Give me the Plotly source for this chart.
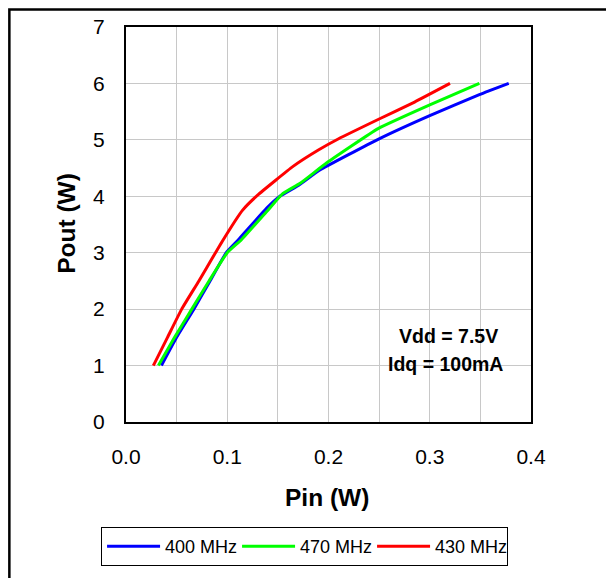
import plotly.graph_objects as go

# Data
pin_400 = [0.035, 0.050, 0.067, 0.083, 0.099, 0.111, 0.139, 0.152, 0.171, 0.191, 0.249, 0.300, 0.349, 0.378]
pout_400 = [1.00, 1.50, 2.00, 2.50, 3.00, 3.23, 3.79, 4.00, 4.20, 4.46, 5.01, 5.43, 5.80, 6.00]

pin_470 = [0.032, 0.048, 0.065, 0.082, 0.100, 0.114, 0.140, 0.155, 0.172, 0.198, 0.249, 0.300, 0.349]
pout_470 = [1.00, 1.50, 2.00, 2.50, 3.00, 3.23, 3.75, 4.05, 4.23, 4.59, 5.20, 5.62, 6.00]

pin_430 = [0.027, 0.041, 0.055, 0.072, 0.095, 0.115, 0.130, 0.165, 0.190, 0.210, 0.250, 0.285, 0.320]
pout_430 = [1.00, 1.50, 2.00, 2.50, 3.20, 3.75, 4.02, 4.53, 4.82, 5.02, 5.37, 5.67, 6.00]

series_names = ["400 MHz", "470 MHz", "430 MHz"]
series_colors = ["#0000ff", "#00ff00", "#ff0000"]

x_ticks = [0.0, 0.1, 0.2, 0.3, 0.4]
y_ticks = [0, 1, 2, 3, 4, 5, 6, 7]

FONT = "Liberation Sans, Arial, sans-serif"

fig = go.Figure()
for xs, ys, name, col in zip([pin_400, pin_470, pin_430],
                             [pout_400, pout_470, pout_430],
                             series_names, series_colors):
    fig.add_trace(go.Scatter(x=xs, y=ys, mode="lines", name=name,
                             line=dict(color=col, width=3, shape="spline", smoothing=0.4)))

grid_col = "#c8c8c8"
fig.update_xaxes(range=[0, 0.4], tickvals=x_ticks, tickformat=".1f",
                 showgrid=True, gridcolor=grid_col, gridwidth=1,
                 minor=dict(dtick=0.05, showgrid=True, gridcolor=grid_col, gridwidth=1),
                 showline=True, linecolor="black", linewidth=2, mirror=True,
                 zeroline=False, ticks="", ticklabelstandoff=15,
                 tickfont=dict(family=FONT, size=21, color="black"))
fig.update_yaxes(range=[0, 7], tickvals=y_ticks,
                 showgrid=True, gridcolor=grid_col, gridwidth=1,
                 showline=True, linecolor="black", linewidth=2, mirror=True,
                 zeroline=False, ticks="", ticklabelstandoff=15,
                 tickfont=dict(family=FONT, size=21, color="black"))

fig.update_layout(
    width=614, height=578,
    margin=dict(l=118, r=91, t=19, b=164, autoexpand=False),
    paper_bgcolor="white", plot_bgcolor="white",
    showlegend=True,
    legend=dict(orientation="h", xref="container", x=0.483, xanchor="center",
                yref="paper", y=-0.266, yanchor="top",
                bordercolor="black", borderwidth=1, bgcolor="white",
                font=dict(family=FONT, size=18, color="black"),
                itemwidth=53, entrywidth=67, entrywidthmode="pixels", tracegroupgap=0),
    annotations=[
        dict(text="<b>Pin (W)</b>", xref="paper", yref="paper", x=0.496, y=-0.19,
             showarrow=False, xanchor="center", yanchor="middle",
             font=dict(family=FONT, size=24.5, color="black")),
        dict(text="<b>Pout (W)</b>", xref="paper", yref="paper", x=-0.146, y=0.504,
             showarrow=False, xanchor="center", yanchor="middle", textangle=-90,
             font=dict(family=FONT, size=24.5, color="black")),
        dict(text="<b>Vdd = 7.5V</b>", xref="paper", yref="paper", x=0.7975, y=0.218,
             showarrow=False, xanchor="center", yanchor="middle",
             font=dict(family=FONT, size=19.5, color="black")),
        dict(text="<b>Idq = 100mA</b>", xref="paper", yref="paper", x=0.79, y=0.147,
             showarrow=False, xanchor="center", yanchor="middle",
             font=dict(family=FONT, size=19.5, color="black")),
    ],
    shapes=[
        dict(type="rect", xref="paper", yref="paper",
             x0=-0.288, x1=1.35, y0=-0.5, y1=1.0445,
             line=dict(color="black", width=2.5), fillcolor="rgba(0,0,0,0)", layer="below"),
    ],
)

fig.write_html("out.html")
